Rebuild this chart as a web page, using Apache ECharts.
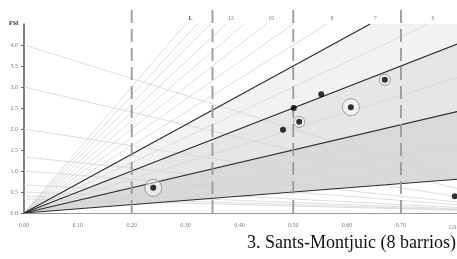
<!DOCTYPE html>
<html><head><meta charset="utf-8">
<script src="https://cdn.jsdelivr.net/npm/echarts@6/dist/echarts.min.js"></script>
<style>html,body{margin:0;padding:0;background:#fff}#c{width:457px;height:259px}</style>
</head><body><div id="c"></div>
<script>
// ---- data ----
const gsiMax = 0.9;
const fsiMax = 4.5;
const xTicks = [0, 0.1, 0.2, 0.3, 0.4, 0.5, 0.6, 0.7];
const yTicks = [0, 0.5, 1.0, 1.5, 2.0, 2.5, 3.0, 3.5, 4.0];
const darkLayers = [1, 3, 5, 7];
const lightLayers = [2, 4, 6, 8, 9, 10, 11, 12, 13, 14, 15];
const bandLayers = [7, 5, 3, 1];
const bandColors = ['#f2f2f2', '#e6e6e6', '#d9d9d9', '#ffffff'];
const osrIntercepts = [4, 3, 2, 1.333, 1, 0.667, 0.5, 0.4, 0.333];
const zoneBounds = [0.2, 0.35, 0.5, 0.7];
const zoneTop = 4.95;
const layerLabelText = ['L', '12', '10', '8', '7', '6'];
const layerLabelL = [15, 12, 10, 8, 7, 6];
const barrioGSI = [0.240, 0.481, 0.501, 0.511, 0.552, 0.607, 0.670, 0.800];
const barrioFSI = [0.60, 1.98, 2.50, 2.17, 2.83, 2.52, 3.17, 0.40];
const barrioRing = ['large', 'none', 'none', 'small', 'none', 'large', 'small', 'none'];
const titleText = '3. Sants-Montjuic (8 barrios)';

// ---- build ----
function layerEnd(L) {
  return L * gsiMax <= fsiMax ? [gsiMax, L * gsiMax] : [fsiMax / L, fsiMax];
}
const series = [];
bandLayers.forEach((L, i) => {
  series.push({
    type: 'line', silent: true, showSymbol: false, z: 1,
    data: [[0, 0], [gsiMax, L * gsiMax]],
    lineStyle: { width: 0, opacity: 0 },
    areaStyle: { color: bandColors[i], opacity: 1 }
  });
});
osrIntercepts.forEach(k => {
  series.push({
    type: 'line', silent: true, showSymbol: false, z: 2,
    data: [[0, k], [gsiMax, k * (1 - gsiMax)]],
    lineStyle: { color: '#d4d4d4', width: 0.8 }
  });
});
lightLayers.forEach(L => {
  series.push({
    type: 'line', silent: true, showSymbol: false, z: 2,
    data: [[0, 0], layerEnd(L)],
    lineStyle: { color: '#d4d4d4', width: 0.8 }
  });
});
darkLayers.forEach(L => {
  series.push({
    type: 'line', silent: true, showSymbol: false, z: 3,
    data: [[0, 0], layerEnd(L)],
    lineStyle: { color: '#2a2a2a', width: 1.1 }
  });
});
zoneBounds.forEach(g => {
  series.push({
    type: 'line', silent: true, showSymbol: false, z: 4, clip: false,
    data: [[g, 0], [g, zoneTop]],
    lineStyle: { color: '#9a9a9a', width: 1.8, type: [13, 6] }
  });
});
series.push({
  type: 'scatter', silent: true, z: 5, clip: false,
  symbolSize: 1, itemStyle: { color: 'rgba(0,0,0,0)' },
  data: layerLabelL.map((L, i) => ({ value: [fsiMax / L, fsiMax], name: layerLabelText[i] })),
  label: {
    show: true, position: 'top', distance: 0, offset: [5, -2],
    formatter: p => p.name === 'L' ? '{b|L}' : p.name,
    fontFamily: 'Liberation Serif', fontSize: 6, color: '#666',
    rich: { b: { fontFamily: 'Liberation Serif', fontSize: 6, fontWeight: 'bold', color: '#222' } }
  }
});
series.push({
  type: 'scatter', silent: true, z: 6, clip: false,
  data: barrioGSI.map((g, i) => ({ value: [g, barrioFSI[i]], ring: barrioRing[i] }))
    .filter(d => d.ring !== 'none'),
  symbolSize: (v, p) => p.data.ring === 'large' ? 17 : 11,
  itemStyle: { color: 'rgba(255,255,255,0.6)', borderColor: '#888', borderWidth: 1 }
});
series.push({
  type: 'scatter', silent: true, z: 7, clip: false,
  data: barrioGSI.map((g, i) => [g, barrioFSI[i]]),
  symbolSize: 6, itemStyle: { color: '#000' }
});

const chart = echarts.init(document.getElementById('c'), null, { renderer: 'canvas' });
const gridLeft = 24, gridTop = 24, gridBottom = 46;
const pxPerGsi = 538.5;
chart.setOption({
  animation: false,
  backgroundColor: '#fff',
  grid: { left: gridLeft, top: gridTop, bottom: gridBottom, width: pxPerGsi * gsiMax, outerBoundsMode: 'none', containLabel: false },
  xAxis: {
    type: 'value', min: 0, max: gsiMax, interval: 0.1,
    splitLine: { show: false },
    axisLine: { show: true, onZero: false, lineStyle: { color: '#9a9a9a', width: 2 } },
    axisTick: { show: true, length: 2, inside: true, lineStyle: { color: '#999' }, customValues: xTicks },
    axisLabel: { customValues: xTicks, formatter: v => v.toFixed(2), fontFamily: 'Liberation Serif', fontSize: 6, color: '#777', margin: 9 }
  },
  yAxis: {
    type: 'value', min: 0, max: fsiMax, interval: 0.5,
    splitLine: { show: false },
    axisLine: { show: true, onZero: false, lineStyle: { color: '#555', width: 1.5 } },
    axisTick: { show: true, length: 3, lineStyle: { color: '#666' }, customValues: yTicks },
    axisLabel: { customValues: yTicks, formatter: v => v.toFixed(1), fontFamily: 'Liberation Serif', fontSize: 6, color: '#777', margin: 6 }
  },
  graphic: [
    { type: 'text', left: 9, top: 20, style: { text: 'FSI', fontFamily: 'Liberation Serif', fontSize: 6, fontWeight: 'bold', fill: '#222' } },
    { type: 'text', left: 449, top: 224, style: { text: 'GSI', fontFamily: 'Liberation Serif', fontSize: 6, fill: '#777' } },
    { type: 'text', right: 1, top: 234, style: { text: titleText, fontFamily: 'Liberation Serif', fontSize: 18, fill: '#111' } }
  ],
  series: series
});
</script>
</body></html>
